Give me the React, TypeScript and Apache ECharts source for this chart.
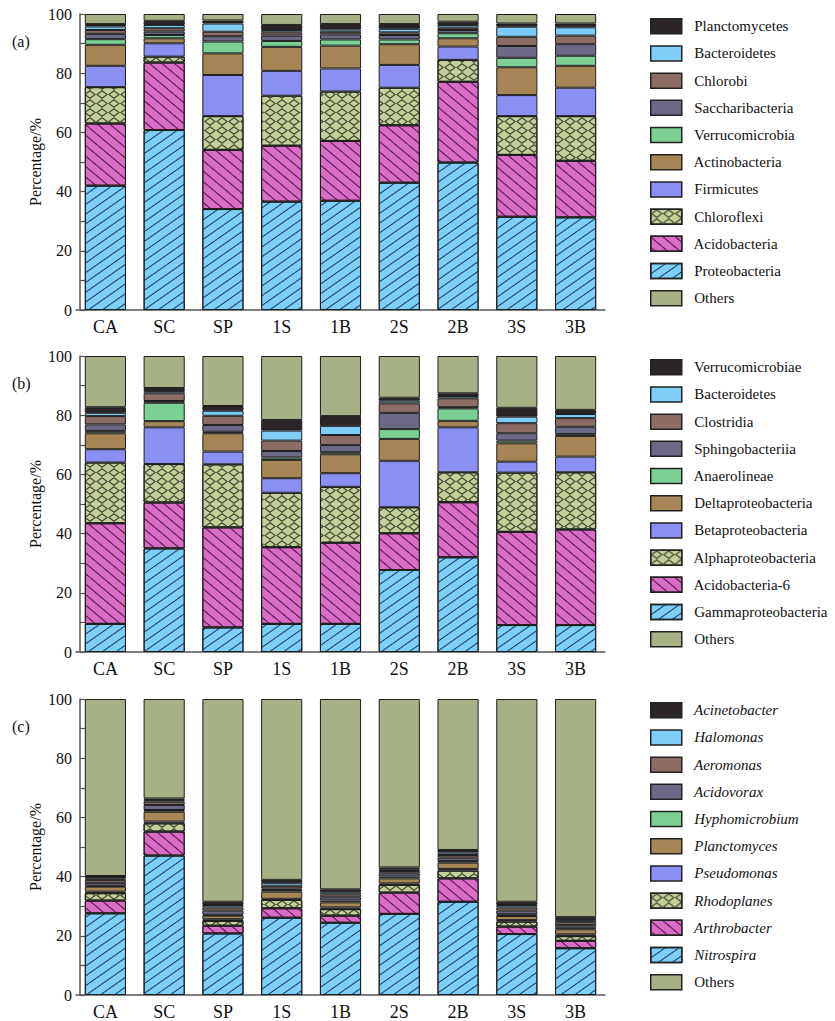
import React, { useEffect, useRef } from 'react';
import * as echarts from 'echarts';

const categories = ['CA', 'SC', 'SP', '1S', '1B', '2S', '2B', '3S', '3B'];
const yTicks = [0, 20, 40, 60, 80, 100];

// ---------- Panel (a): phylum level (stack order bottom -> top) ----------
const aNames = ['Proteobacteria', 'Acidobacteria', 'Chloroflexi', 'Firmicutes', 'Actinobacteria', 'Verrucomicrobia', 'Saccharibacteria', 'Chlorobi', 'Bacteroidetes', 'Planctomycetes', 'Others'];
const aProteobacteria = [42.0, 60.8, 34.1, 36.6, 36.9, 43.0, 49.8, 31.5, 31.3];
const aAcidobacteria = [21.0, 22.8, 20.0, 18.9, 20.2, 19.4, 27.3, 20.9, 19.1];
const aChloroflexi = [12.3, 2.0, 11.4, 16.9, 16.7, 12.7, 7.4, 13.1, 15.1];
const aFirmicutes = [7.2, 4.5, 13.9, 8.4, 7.8, 7.7, 4.5, 7.1, 9.6];
const aActinobacteria = [7.1, 1.7, 7.3, 8.1, 7.7, 7.0, 2.8, 9.4, 7.4];
const aVerrucomicrobia = [1.9, 1.1, 4.0, 2.0, 2.1, 1.6, 1.7, 3.2, 3.4];
const aSaccharibacteria = [1.8, 1.2, 1.8, 1.8, 1.7, 1.5, 1.1, 4.0, 3.9];
const aChlorobi = [1.3, 1.1, 1.5, 1.1, 0.9, 0.9, 0.8, 3.1, 2.9];
const aBacteroidetes = [1.2, 1.1, 2.8, 0.8, 0.8, 1.2, 0.9, 3.4, 2.8];
const aPlanctomycetes = [0.8, 1.4, 1.0, 1.7, 1.8, 1.6, 1.1, 1.1, 1.3];
const aOthers = [3.4, 2.3, 2.2, 3.7, 3.4, 3.4, 2.6, 3.2, 3.2];
const aValues = [aProteobacteria, aAcidobacteria, aChloroflexi, aFirmicutes, aActinobacteria, aVerrucomicrobia, aSaccharibacteria, aChlorobi, aBacteroidetes, aPlanctomycetes, aOthers];

// ---------- Panel (b): class level ----------
const bNames = ['Gammaproteobacteria', 'Acidobacteria-6', 'Alphaproteobacteria', 'Betaproteobacteria', 'Deltaproteobacteria', 'Anaerolineae', 'Sphingobacteriia', 'Clostridia', 'Bacteroidetes', 'Verrucomicrobiae', 'Others'];
const bGammaproteobacteria = [9.5, 35.0, 8.3, 9.5, 9.5, 27.7, 32.0, 9.1, 9.1];
const bAcidobacteria6 = [34.0, 15.5, 33.8, 25.9, 27.4, 12.4, 18.6, 31.5, 32.3];
const bAlphaproteobacteria = [20.5, 13.0, 21.3, 18.4, 18.9, 8.8, 10.1, 20.0, 19.3];
const bBetaproteobacteria = [4.5, 12.4, 4.3, 4.9, 4.6, 15.7, 15.2, 3.7, 5.3];
const bDeltaproteobacteria = [5.4, 2.1, 6.2, 6.2, 6.4, 7.4, 2.2, 6.2, 7.0];
const bAnaerolineae = [0.8, 6.2, 0.5, 0.8, 0.7, 3.3, 4.2, 0.9, 0.6];
const bSphingobacteriia = [2.2, 0.6, 2.3, 2.2, 2.4, 5.5, 0.4, 2.5, 2.5];
const bClostridia = [2.8, 2.6, 3.1, 3.5, 3.4, 3.2, 3.0, 3.4, 2.9];
const bBacteroidetes = [1.1, 0.8, 1.7, 3.4, 3.1, 0.9, 0.8, 2.2, 1.4];
const bVerrucomicrobiae = [1.9, 1.0, 1.6, 3.6, 3.3, 1.0, 0.9, 3.0, 1.4];
const bOthers = [17.3, 10.8, 16.9, 21.6, 20.3, 14.1, 12.6, 17.5, 18.2];
const bValues = [bGammaproteobacteria, bAcidobacteria6, bAlphaproteobacteria, bBetaproteobacteria, bDeltaproteobacteria, bAnaerolineae, bSphingobacteriia, bClostridia, bBacteroidetes, bVerrucomicrobiae, bOthers];

// ---------- Panel (c): genus level ----------
const cNames = ['Nitrospira', 'Arthrobacter', 'Rhodoplanes', 'Pseudomonas', 'Planctomyces', 'Hyphomicrobium', 'Acidovorax', 'Aeromonas', 'Halomonas', 'Acinetobacter', 'Others'];
const cNitrospira = [27.6, 47.1, 20.8, 26.1, 24.4, 27.4, 31.5, 20.6, 15.8];
const cArthrobacter = [4.3, 8.1, 2.6, 3.2, 2.4, 7.2, 7.9, 2.5, 2.5];
const cRhodoplanes = [2.5, 2.8, 1.6, 2.8, 2.2, 2.6, 2.6, 1.7, 1.6];
const cPseudomonas = [0.5, 0.6, 0.6, 0.4, 0.6, 0.5, 0.6, 0.5, 0.6];
const cPlanctomyces = [1.7, 3.3, 1.2, 2.4, 1.7, 1.7, 2.1, 1.4, 1.7];
const cHyphomicrobium = [0.3, 0.6, 0.3, 0.6, 0.6, 0.6, 0.6, 0.6, 0.5];
const cAcidovorax = [1.0, 1.7, 1.4, 0.5, 1.1, 1.1, 1.1, 1.2, 0.9];
const cAeromonas = [1.0, 1.1, 1.1, 0.9, 1.0, 0.8, 0.9, 1.1, 1.0];
const cHalomonas = [0.5, 0.6, 0.8, 1.0, 0.7, 0.6, 0.8, 0.8, 0.7];
const cAcinetobacter = [0.8, 0.5, 1.1, 1.0, 1.0, 0.6, 0.9, 1.1, 1.0];
const cOthers = [59.8, 33.6, 68.5, 61.1, 64.3, 56.9, 51.0, 68.5, 73.7];
const cValues = [cNitrospira, cArthrobacter, cRhodoplanes, cPseudomonas, cPlanctomyces, cHyphomicrobium, cAcidovorax, cAeromonas, cHalomonas, cAcinetobacter, cOthers];

// ---------- styles (by stack position, bottom -> top) ----------
const FONT = '"Liberation Serif", "Times New Roman", serif';
const LEG_FONT = 'Liberation Serif';
const fillColors = ['#7ccff8', '#d96cc4', '#c4cf9a', '#8c8ff2', '#a68656', '#7ccf95', '#6c6987', '#8c6d66', '#7dcdf7', '#2b2529', '#a6b286'];

const decalFwd = { symbol: 'rect', symbolSize: 1, dashArrayX: [1, 0], dashArrayY: [1, 7], rotation: -Math.PI * 35 / 180, color: '#1d3760' };
const decalBack = { symbol: 'rect', symbolSize: 1, dashArrayX: [1, 0], dashArrayY: [1, 7], rotation: Math.PI * 40 / 180, color: '#4a1540' };
const decalCross = {
  symbol: 'path://M6,0L12,4.5L6,9L0,4.5Z M6,1.5L1.9,4.5L6,7.5L10.1,4.5Z',
  symbolSize: 1, dashArrayX: [12, 0], dashArrayY: [9, 0], rotation: 0, color: '#3b4630',
};
const decals: any[] = [decalFwd, decalBack, decalCross, null, null, null, null, null, null, null, null];

const grids = [
  { top: 14, label: '(a)', labelY: 42 },
  { top: 356, label: '(b)', labelY: 384 },
  { top: 699, label: '(c)', labelY: 727 },
];

function buildSeries(names: string[], values: number[][], panel: number) {
  return names.map((name, i) => {
    const itemStyle: any = { color: fillColors[i], borderColor: '#1e1e1e', borderWidth: 1 };
    if (decals[i]) itemStyle.decal = decals[i];
    return {
      name,
      type: 'bar',
      stack: 'p' + panel,
      xAxisIndex: panel,
      yAxisIndex: panel,
      barWidth: '70%',
      itemStyle,
      emphasis: { disabled: true },
      data: values[i],
    };
  });
}

function legendData(names: string[]) {
  return names.slice(0, 10).reverse().concat([names[10]]);
}

export default function App() {
  const ref = useRef<HTMLDivElement>(null);
  useEffect(() => {
    if (!ref.current) return;
    const chart = echarts.init(ref.current, undefined, { renderer: 'svg' });
    const option: any = {
      animation: false,
      backgroundColor: '#ffffff',
      textStyle: { fontFamily: FONT },
      grid: grids.map((g) => ({ left: 76, top: g.top, width: 529, height: 296 })),
      xAxis: grids.map((g, i) => ({
        type: 'category',
        gridIndex: i,
        data: categories,
        axisLine: { lineStyle: { color: '#555', width: 1.5 } },
        axisTick: { show: false },
        axisLabel: { color: '#111', fontSize: 18, fontFamily: FONT, margin: 8 },
      })),
      yAxis: grids.map((g, i) => ({
        type: 'value',
        gridIndex: i,
        min: 0,
        max: 100,
        interval: 10,
        offset: -4,
        name: 'Percentage/%',
        nameLocation: 'middle',
        nameGap: 37,
        nameMoveOverlap: false,
        nameTextStyle: { color: '#111', fontSize: 16, fontFamily: FONT },
        axisLine: { show: true, lineStyle: { color: '#555', width: 1.5 } },
        axisTick: { show: true, inside: true, length: 5, lineStyle: { color: '#555', width: 1.2 } },
        splitLine: { show: false },
        axisLabel: {
          color: '#111', fontSize: 16, fontFamily: FONT, margin: 8,
          formatter: (v: number) => (yTicks.indexOf(v) >= 0 ? String(v) : ''),
        },
      })),
      legend: [
        { names: aNames, italic: false, top: 18 },
        { names: bNames, italic: false, top: 359 },
        { names: cNames, italic: true, top: 702 },
      ].map((l) => ({
        orient: 'vertical',
        left: 650,
        top: l.top,
        padding: 0,
        itemWidth: 31,
        itemHeight: 15,
        itemGap: 10.7,
        icon: 'rect',
        selectedMode: false,
        itemStyle: { borderColor: '#222', borderWidth: 1.5 },
        formatter: (name: string) =>
          (l.italic && name !== 'Others' ? '{i|' : '{n|') + '  ' + name + '}',
        textStyle: {
          color: '#111',
          fontSize: 15,
          fontFamily: LEG_FONT,
          rich: {
            n: { color: '#111', fontSize: 15, fontFamily: LEG_FONT, fontStyle: 'normal' },
            i: { color: '#111', fontSize: 15, fontFamily: LEG_FONT, fontStyle: 'italic' },
          },
        },
        data: legendData(l.names),
      })),
      graphic: grids.map((g) => ({
        type: 'text',
        left: 12,
        top: g.labelY - 9,
        style: { text: g.label, fontSize: 16, fontFamily: FONT, fill: '#111' },
      })),
      series: [
        ...buildSeries(aNames, aValues, 0),
        ...buildSeries(bNames, bValues, 1),
        ...buildSeries(cNames, cValues, 2),
      ],
    };
    chart.setOption(option);
    return () => chart.dispose();
  }, []);
  return (
    <div
      ref={ref}
      style={{ position: 'absolute', left: 0, top: 0, width: 835, height: 1021, background: '#fff' }}
    />
  );
}
